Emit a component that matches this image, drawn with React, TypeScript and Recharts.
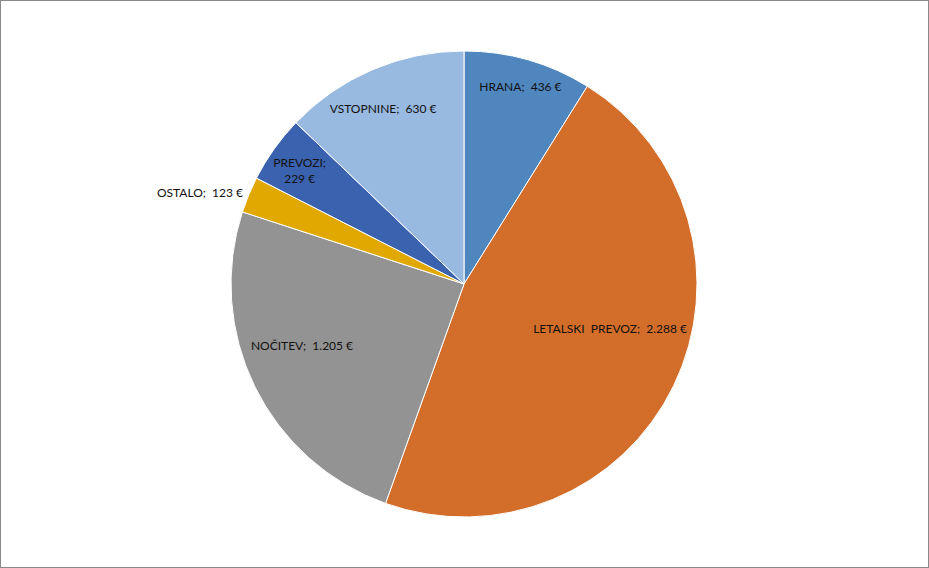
import { PieChart, Pie, Cell } from "recharts";

const categories = ["HRANA", "LETALSKI  PREVOZ", "NOČITEV", "OSTALO", "PREVOZI", "VSTOPNINE"];
const amounts = [436, 2288, 1205, 123, 229, 630];
const amountLabels = ["436 €", "2.288 €", "1.205 €", "123 €", "229 €", "630 €"];
const colors = ["#4F86BE", "#D36D2A", "#939393", "#E0A800", "#3B62AE", "#98B9E0"];

// label placement: radius fraction, compass nudge (deg), anchor, line break
const labelPos = [
  { r: 0.88, shift: 0, anchor: "middle", split: false },
  { r: 0.655, shift: -9, anchor: "middle", split: false },
  { r: 0.743, shift: 5.5, anchor: "middle", split: false },
  { r: 1.027, shift: 0, anchor: "end", split: false },
  { r: 0.855, shift: -1, anchor: "middle", split: true },
  { r: 0.828, shift: -1.7, anchor: "middle", split: false },
];

const data = categories.map((name, i) => ({ name, value: amounts[i] }));

const renderLabel = (props: any) => {
  const { cx, cy, midAngle, outerRadius, index } = props;
  const pos = labelPos[index];
  const compass = 90 - midAngle + pos.shift;
  const rad = (compass * Math.PI) / 180;
  const r = outerRadius * pos.r;
  const x = cx + r * Math.sin(rad);
  const y = cy - r * Math.cos(rad);
  const style = { whiteSpace: "pre" as const };
  if (pos.split) {
    return (
      <text x={x} y={y} textAnchor="middle" fontSize={12} fill="#111" fontFamily="Lato" style={style}>
        <tspan x={x} dy={-4}>{categories[index] + ";"}</tspan>
        <tspan x={x} dy={16}>{amountLabels[index]}</tspan>
      </text>
    );
  }
  return (
    <text
      x={x}
      y={y}
      textAnchor={pos.anchor}
      dominantBaseline="central"
      fontSize={12}
      fill="#111"
      fontFamily="Lato"
      style={style}
    >
      {categories[index] + ";  " + amountLabels[index]}
    </text>
  );
};

export default function App() {
  return (
    <div
      style={{
        position: "absolute",
        left: 0,
        top: 0,
        width: 929,
        height: 568,
        border: "1px solid #898989",
        boxSizing: "border-box",
        background: "#fff",
      }}
    >
      <PieChart width={927} height={566} margin={{ top: 0, right: 0, bottom: 0, left: 0 }}>
        <Pie
          data={data}
          dataKey="value"
          nameKey="name"
          cx={463}
          cy={283}
          outerRadius={233}
          startAngle={90}
          endAngle={-270}
          stroke="#fff"
          strokeWidth={1}
          label={renderLabel}
          labelLine={false}
          isAnimationActive={false}
        >
          {data.map((d, i) => (
            <Cell key={d.name} fill={colors[i]} />
          ))}
        </Pie>
      </PieChart>
    </div>
  );
}
